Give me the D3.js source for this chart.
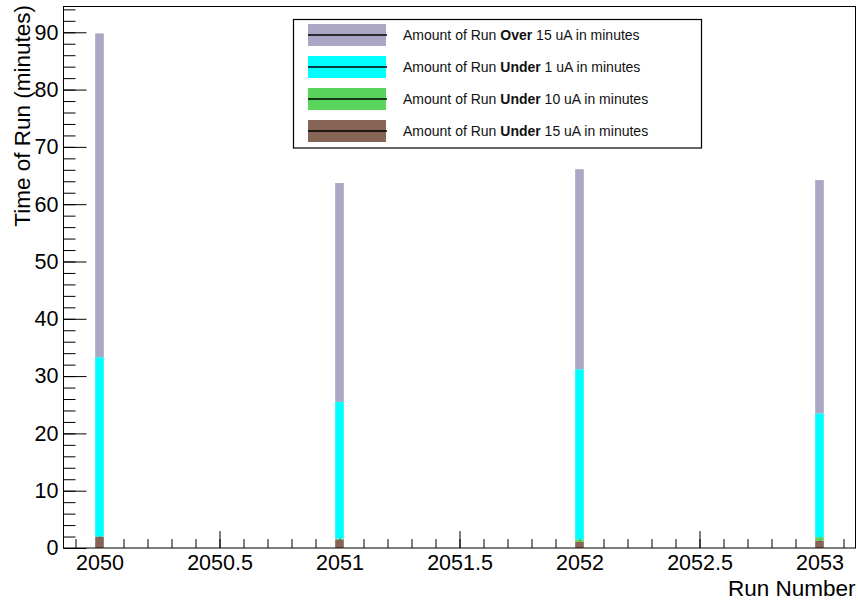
<!DOCTYPE html>
<html>
<head>
<meta charset="utf-8">
<script src="https://cdn.jsdelivr.net/npm/d3@7"></script>
<style>
  html, body { margin: 0; padding: 0; background: #fff; }
  svg { display: block; font-family: "Liberation Sans", Arial, Helvetica, sans-serif; }
</style>
</head>
<body>
<svg id="chart" width="858" height="600"></svg>
<script>
// ---- data ----
const runs = [2050, 2051, 2052, 2053];
const under15 = [2.0, 1.5, 1.1, 1.3];     // brown (bottom)
const under10 = [0.0, 0.15, 0.4, 0.6];    // green
const under1  = [31.3, 23.85, 29.7, 21.6]; // cyan
const over15  = [56.5, 38.2, 34.9, 40.7];  // gray (top)

const seriesKeys = ["under15", "under10", "under1", "over15"];
const seriesColors = { under15: "#876556", under10: "#58d55a", under1: "#00ffff", over15: "#aaa6c4" };
const legendEntries = [
  { key: "over15",  pre: "Amount of Run ", bold: "Over",  post: " 15 uA in minutes" },
  { key: "under1",  pre: "Amount of Run ", bold: "Under", post: " 1 uA in minutes" },
  { key: "under10", pre: "Amount of Run ", bold: "Under", post: " 10 uA in minutes" },
  { key: "under15", pre: "Amount of Run ", bold: "Under", post: " 15 uA in minutes" }
];
const xMajorTicks = [2050, 2050.5, 2051, 2051.5, 2052, 2052.5, 2053];
const yMajorTicks = [0, 10, 20, 30, 40, 50, 60, 70, 80, 90];

const table = runs.map((r, i) => ({
  run: r, under15: under15[i], under10: under10[i], under1: under1[i], over15: over15[i]
}));

// ---- layout ----
const svg = d3.select("#chart");
const pLeft = 63.5, pRight = 855.5, pTop = 6.5, pBottom = 548;

const x = d3.scaleLinear().domain([2049.85, 2053.15]).range([pLeft, pRight]);
const y = d3.scaleLinear().domain([0, 94.5]).range([pBottom, pTop]);
const barW = 0.036;
const tickFont = 21.5;
const titleFont = 22.5;

// x axis minor ticks
const xMinor = d3.range(2049.9, 2053.15, 0.1).map(v => Math.round(v * 10) / 10);
svg.append("g").attr("transform", `translate(0,${pBottom})`)
  .call(d3.axisBottom(x).tickValues(xMinor).tickFormat("").tickSizeInner(-9).tickSizeOuter(0))
  .call(g => g.select(".domain").remove())
  .selectAll("line").attr("stroke", "#000");
// x axis major
const xAxis = svg.append("g").attr("transform", `translate(0,${pBottom})`)
  .call(d3.axisBottom(x).tickValues(xMajorTicks).tickFormat(d => d3.format("")(d))
        .tickSizeInner(-17).tickSizeOuter(0).tickPadding(7));
xAxis.select(".domain").remove();
xAxis.selectAll("line").attr("stroke", "#000");
xAxis.selectAll("text").attr("font-size", tickFont).attr("fill", "#000")
  .attr("font-family", "Liberation Sans, Arial, sans-serif").attr("dy", "0.71em");

// y axis minor
const yMinor = d3.range(0, 95, 2);
svg.append("g").attr("transform", `translate(${pLeft},0)`)
  .call(d3.axisLeft(y).tickValues(yMinor).tickFormat("").tickSizeInner(-12).tickSizeOuter(0))
  .call(g => g.select(".domain").remove())
  .selectAll("line").attr("stroke", "#000");
const yAxis = svg.append("g").attr("transform", `translate(${pLeft},0)`)
  .call(d3.axisLeft(y).tickValues(yMajorTicks).tickSizeInner(-23).tickSizeOuter(0).tickPadding(5));
yAxis.select(".domain").remove();
yAxis.selectAll("line").attr("stroke", "#000");
yAxis.selectAll("text").attr("font-size", tickFont).attr("fill", "#000")
  .attr("font-family", "Liberation Sans, Arial, sans-serif");

// bars (drawn over the ticks)
const stacked = d3.stack().keys(seriesKeys)(table);
svg.append("g").selectAll("g").data(stacked).join("g")
  .attr("fill", d => seriesColors[d.key])
  .selectAll("rect").data(d => d).join("rect")
  .attr("x", d => x(d.data.run - barW / 2))
  .attr("width", d => x(d.data.run + barW / 2) - x(d.data.run - barW / 2))
  .attr("y", d => y(d[1]))
  .attr("height", d => Math.max(0, y(d[0]) - y(d[1])));

// frame
svg.append("rect").attr("x", pLeft).attr("y", pTop)
  .attr("width", pRight - pLeft).attr("height", pBottom - pTop)
  .attr("fill", "none").attr("stroke", "#000").attr("stroke-width", 1);

// axis titles
svg.append("text").attr("x", pRight).attr("y", 595.5).attr("text-anchor", "end")
  .attr("font-size", titleFont).text("Run Number");
svg.append("text").attr("transform", `translate(29.5,5) rotate(-90)`)
  .attr("text-anchor", "end").attr("font-size", titleFont).text("Time of Run (minutes)");

// legend
const lg = svg.append("g");
lg.append("rect").attr("x", 293.5).attr("y", 19.5).attr("width", 408).attr("height", 128.5)
  .attr("fill", "#fff").attr("stroke", "#000").attr("stroke-width", 1.2);
legendEntries.forEach((e, i) => {
  const cy = 35 + i * 32;
  lg.append("rect").attr("x", 308).attr("y", cy - 11).attr("width", 78).attr("height", 22)
    .attr("fill", seriesColors[e.key]);
  lg.append("line").attr("x1", 308).attr("x2", 387).attr("y1", cy).attr("y2", cy)
    .attr("stroke", "#000").attr("stroke-width", 1.3);
  const t = lg.append("text").attr("x", 403).attr("y", cy + 5).attr("font-size", 14).attr("fill", "#111");
  t.append("tspan").text(e.pre);
  t.append("tspan").attr("font-weight", "bold").text(e.bold);
  t.append("tspan").text(e.post);
});
</script>
</body>
</html>
